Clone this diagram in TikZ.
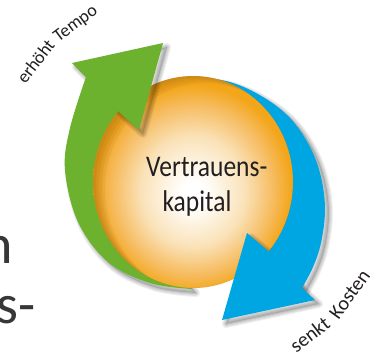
\documentclass[tikz,border=0pt]{standalone}
\usepackage{fontspec}
\setmainfont{Carlito}
\newfontfamily\ctrfont[FakeStretch=0.85]{Carlito}
\definecolor{grn}{RGB}{108,178,46}
\definecolor{blu}{RGB}{0,166,226}
\definecolor{sphA}{RGB}{250,226,184}
\definecolor{sphB}{RGB}{246,188,96}
\definecolor{sphC}{RGB}{243,166,26}
\definecolor{txt}{RGB}{35,31,32}
\definecolor{bigtxt}{RGB}{55,55,55}
\definecolor{shd}{RGB}{110,65,20}
\pgfdeclareradialshading{sph}{\pgfpoint{0bp}{-3bp}}{color(0bp)=(white); color(3bp)=(white); color(13bp)=(sphA); color(20bp)=(sphB); color(24.5bp)=(sphC); color(50bp)=(sphC)}
\def\greenbody{plot[smooth, tension=0.6] coordinates {(192,-289) (150,-283) (108,-262) (78,-222) (65,-170) (70,-128) (86,-77)} -- (120,-113) .. controls (150,-160) and (150,-240) .. (192,-289) -- cycle}
\def\greenhead{(86,-77) -- (72,-63) -- (163,-43) -- (139,-130) -- (120,-113) -- cycle}
\def\bluebody{plot[smooth, tension=0.6] coordinates {(190,-76) (230,-82) (263,-97) (290,-118) (310,-147) (321,-177) (325,-210) (321,-243) (313,-267) (302,-288)} -- (267,-250) .. controls (285,-200) and (280,-110) .. (190,-76) -- cycle}
\def\bluehead{(267,-250) -- (247,-233) -- (222,-320) -- (315,-300) -- (302,-288) -- cycle}
\def\sphpath{(193,-182) ellipse [x radius=100, y radius=106]}
\newcommand\softshadow[2][0.14]{%
  \begin{scope}[shift={(4,-4)}]
    \foreach \w in {2,4,6,8} {\draw[black, opacity=0.06, line width=\w pt, line join=round] #2;}
    \fill[black, opacity=#1] #2;
  \end{scope}}
\tikzset{
  ctrtext/.style={font=\ctrfont\fontsize{30}{30}\selectfont, text=txt, inner sep=0pt},
  bigtext/.style={font=\fontsize{56}{56}\selectfont, text=bigtxt, inner sep=0pt},
  lbl/.style={font=\fontsize{18}{18}\selectfont, text=txt, inner sep=0pt, anchor=base},
  lblb/.style={font=\fontsize{20}{20}\selectfont, text=txt, inner sep=0pt, anchor=base},
}
\begin{document}
\begin{tikzpicture}[x=1pt, y=1pt]
  \useasboundingbox (0,0) rectangle (374,-357);
  \fill[white] (0,0) rectangle (374,-357);
  % cut-off text at the left edge
  \begin{scope}
    \clip (0,0) rectangle (374,-357);
    \node[bigtext, anchor=base east] (cutn) at (13,-263) {n};
    \node[bigtext, anchor=base east] (cuts) at (36,-323) {s-};
  \end{scope}
  % shadows of the arrows
  \softshadow{\greenbody}
  \softshadow{\greenhead}
  \softshadow{\bluebody}
  \softshadow{\bluehead}
  % arrow bodies
  \fill[grn] \greenbody;
  \fill[blu] \bluebody;
  % sphere
  \shade[shading=sph] \sphpath;
  \begin{scope}
    \clip \sphpath;
    \foreach \d in {3,6,9,12} {
      \fill[shd, opacity=0.07, even odd rule] \sphpath ([shift={(\d,-\d*0.6)}]193,-182) ellipse [x radius=100, y radius=106];
    }
    % head shadows falling on the sphere
    \softshadow[0.1]{\greenhead}
    \softshadow[0.1]{\bluehead}
  \end{scope}
  % arrow heads
  \fill[grn] \greenhead;
  \fill[blu] \bluehead;
  % centre text
  \node[ctrtext, anchor=base west] (t1) at (146,-176.7) {Vertrauens-};
  \node[ctrtext, anchor=base] (t2) at (197,-211.7) {kapital};
  % curved labels (each word rotated along the circle round the sphere)
  \node[lbl, rotate=52.1] (l1) at ([shift={(142.6:192)}]193,-182) {erhöht};
  \node[lbl, rotate=36.6] (l2) at ([shift={(126.6:192)}]193,-182) {Tempo};
  \node[lblb, rotate=37.4] (l3) at ([shift={(-52.6:199)}]193,-182) {senkt};
  \node[lblb, rotate=54.2] (l4) at ([shift={(-35.6:199)}]193,-182) {Kosten};
\end{tikzpicture}
\end{document}
